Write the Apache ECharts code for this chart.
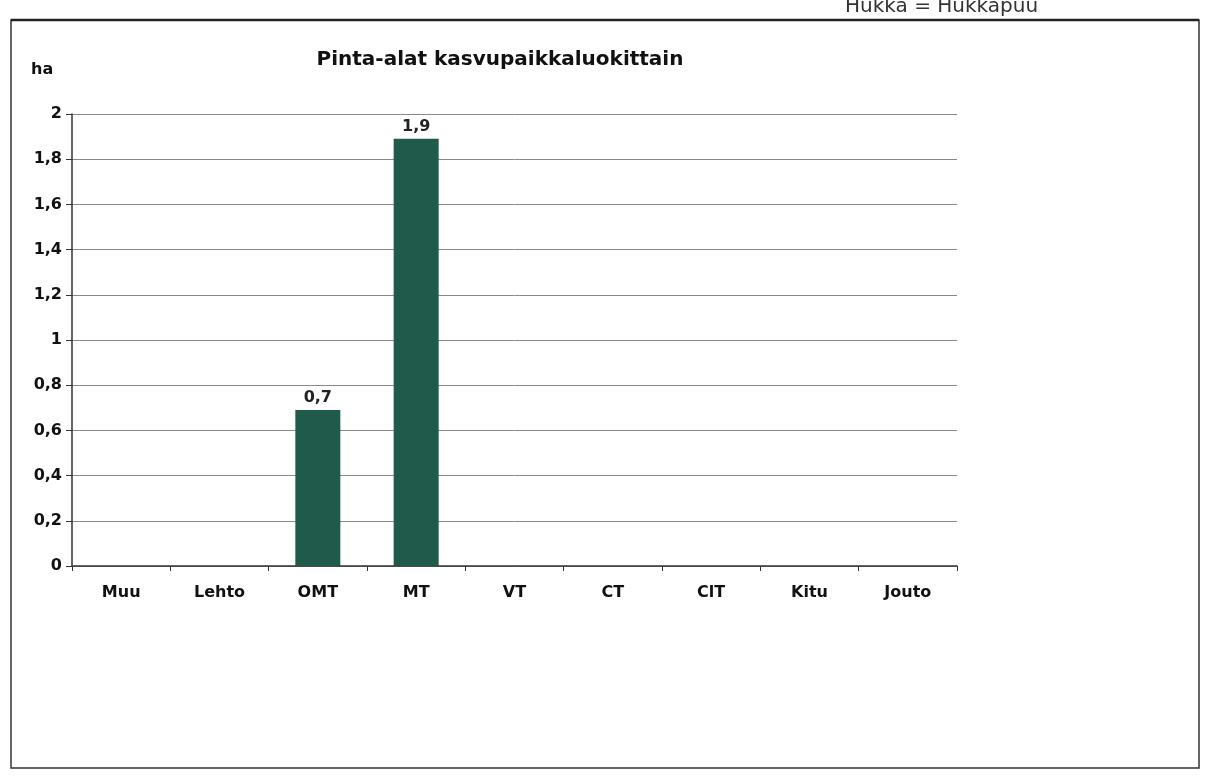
<!DOCTYPE html>
<html>
<head>
<meta charset="utf-8">
<script src="https://cdn.jsdelivr.net/npm/echarts@6/dist/echarts.min.js"></script>
<style>
html,body{margin:0;padding:0;background:#fff;}
#chart{width:1208px;height:780px;}
</style>
</head>
<body>
<div id="chart"></div>
<script>
const categories = ['Muu', 'Lehto', 'OMT', 'MT', 'VT', 'CT', 'ClT', 'Kitu', 'Jouto'];
const areaValues = [0, 0, 0.69, 1.89, 0, 0, 0, 0, 0];
const yTicks = [0, 0.2, 0.4, 0.6, 0.8, 1, 1.2, 1.4, 1.6, 1.8, 2];

const fmt = v => String(v).replace('.', ',');
const chart = echarts.init(document.getElementById('chart'));
const font = 'DejaVu Sans';
chart.setOption({
  animation: false,
  backgroundColor: '#fff',
  textStyle: { fontFamily: font },
  title: {
    text: 'Pinta-alat kasvupaikkaluokittain',
    left: 495, top: 45, textAlign: 'center',
    textStyle: { fontFamily: font, fontWeight: 'bold', fontSize: 20, color: '#111' }
  },
  graphic: [
    { type: 'rect', shape: { x: 11, y: 20, width: 1188, height: 748 },
      style: { fill: 'none', stroke: '#333', lineWidth: 1.5 } },
    { type: 'line', shape: { x1: 11, y1: 20, x2: 1199, y2: 20 },
      style: { stroke: '#222', lineWidth: 2.5 } },
    { type: 'text', left: 845, top: -3,
      style: { text: 'Hukka = Hukkapuu', fontFamily: font, fontSize: 20, fill: '#333' } },
    { type: 'text', left: 31, top: 62,
      style: { text: 'ha', fontFamily: font, fontSize: 16, fontWeight: 'bold', fill: '#111' } }
  ],
  grid: { left: 72, right: 251, top: 114, height: 452, containLabel: false },
  xAxis: {
    type: 'category',
    data: categories,
    axisLine: { lineStyle: { color: '#333', width: 1.5 } },
    axisTick: { show: true, length: 5, lineStyle: { color: '#333' } },
    axisLabel: { margin: 19, fontFamily: font, fontWeight: 'bold', fontSize: 16, color: '#111' }
  },
  yAxis: {
    type: 'value',
    min: 0, max: 2, interval: 0.2,
    axisLine: { show: true, lineStyle: { color: '#333', width: 1.5 } },
    axisTick: { show: true, length: 6, lineStyle: { color: '#333' } },
    splitLine: { lineStyle: { color: '#8a8a8a', width: 1 } },
    axisLabel: {
      margin: 10, fontFamily: font, fontWeight: 'bold', fontSize: 16, color: '#111',
      formatter: v => {
        const t = yTicks.find(x => Math.abs(x - v) < 1e-9);
        return fmt(t !== undefined ? t : v);
      }
    }
  },
  series: [{
    type: 'bar',
    data: areaValues,
    barWidth: 45,
    itemStyle: { color: '#1f5a4b', borderWidth: 0 },
    label: {
      show: true, position: 'top', distance: 4,
      fontFamily: font, fontWeight: 'bold', fontSize: 16, color: '#222',
      formatter: p => p.value > 0 ? fmt(p.value.toFixed(1)) : ''
    }
  }]
});
</script>
</body>
</html>
